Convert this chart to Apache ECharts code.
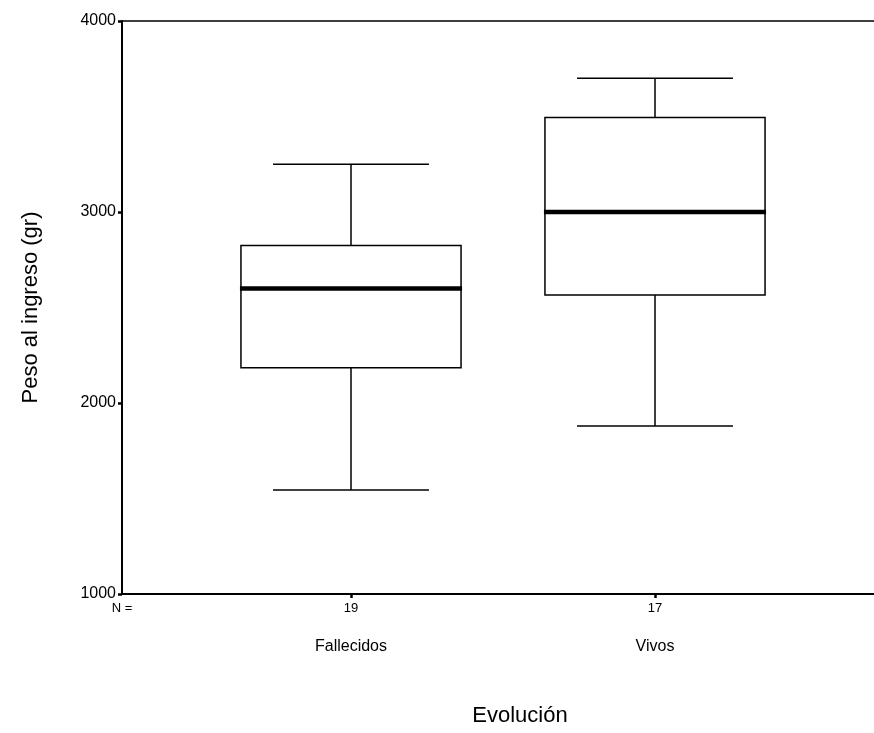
<!DOCTYPE html>
<html><head><meta charset="utf-8">
<script src="https://cdn.jsdelivr.net/npm/echarts@6/dist/echarts.min.js"></script>
<style>html,body{margin:0;padding:0;background:#fff}#c{width:874px;height:733px}</style>
</head><body><div id="c"></div>
<script>
const categories = ['Fallecidos', 'Vivos'];
const nCounts = [19, 17];
const lowWhisker = [1545, 1880];
const q1 = [2185, 2565];
const median = [2600, 3000];
const q3 = [2825, 3495];
const highWhisker = [3250, 3700];
const yTicks = [1000, 2000, 3000, 4000];

const FONT = '"Liberation Sans", Arial, sans-serif';
const chart = echarts.init(document.getElementById('c'), null, {renderer: 'canvas'});

function renderItem(params, api) {
  const x = api.value(0);
  const lo = api.coord([x, api.value(1)]);
  const b1 = api.coord([x, api.value(2)]);
  const md = api.coord([x, api.value(3)]);
  const b3 = api.coord([x, api.value(4)]);
  const hi = api.coord([x, api.value(5)]);
  const band = api.size([1, 0])[0];
  const bw = band * 0.724, cw = band * 0.513;
  const cx = lo[0];
  const ln = (x1, y1, x2, y2, w) => ({type: 'line', shape: {x1, y1, x2, y2}, style: {stroke: '#000', lineWidth: w}});
  return {type: 'group', children: [
    ln(cx, hi[1], cx, b3[1], 1.5),
    ln(cx, b1[1], cx, lo[1], 1.5),
    ln(cx - cw / 2, hi[1], cx + cw / 2, hi[1], 1.5),
    ln(cx - cw / 2, lo[1], cx + cw / 2, lo[1], 1.5),
    {type: 'rect', shape: {x: cx - bw / 2, y: b3[1], width: bw, height: b1[1] - b3[1]}, style: {fill: '#fff', stroke: '#000', lineWidth: 1.5}},
    ln(cx - bw / 2 - 1, md[1], cx + bw / 2 + 1, md[1], 4.5)
  ]};
}

chart.setOption({
  animation: false,
  backgroundColor: '#fff',
  textStyle: {fontFamily: FONT, color: '#000'},
  grid: [
    {left: 122, right: -44, top: 21, bottom: 139, outerBoundsMode: 'none', containLabel: false, show: true, borderColor: '#000', borderWidth: 1.5, backgroundColor: 'transparent'},
    {left: 199, width: 608, top: 21, bottom: 139, outerBoundsMode: 'none', containLabel: false}
  ],
  xAxis: [
    {gridIndex: 0, type: 'value', min: 0, max: 1, interval: 1, position: 'bottom',
     axisLine: {show: true, lineStyle: {color: '#000', width: 2}}, axisTick: {show: false}, splitLine: {show: false},
     axisLabel: {formatter: v => v === 0 ? 'N =' : '', fontSize: 13, color: '#000', fontFamily: FONT, margin: 8},
     name: 'Evolución', nameLocation: 'middle', nameGap: 111, nameTextStyle: {fontSize: 22, color: '#000', fontFamily: FONT}},
    {gridIndex: 1, type: 'category', data: categories, position: 'bottom',
     axisLine: {show: false}, axisTick: {show: true, alignWithLabel: true, length: 4, lineStyle: {color: '#000', width: 2.5}},
     axisLabel: {formatter: (v, i) => String(nCounts[i]), fontSize: 13, color: '#000', fontFamily: FONT, margin: 8}},
    {gridIndex: 1, type: 'category', data: categories, position: 'bottom',
     axisLine: {show: false}, axisTick: {show: false},
     axisLabel: {fontSize: 16, color: '#000', fontFamily: FONT, margin: 45}}
  ],
  yAxis: [
    {gridIndex: 0, type: 'value', min: yTicks[0], max: yTicks[yTicks.length - 1], interval: 1000,
     axisLine: {show: true, lineStyle: {color: '#000', width: 2}},
     axisTick: {show: true, length: 4, lineStyle: {color: '#000', width: 2.5}},
     splitLine: {show: false},
     axisLabel: {formatter: v => String(v), fontSize: 16, color: '#000', fontFamily: FONT, margin: 6},
     name: 'Peso al ingreso (gr)', nameLocation: 'middle', nameGap: 80, nameTextStyle: {fontSize: 22, color: '#000', fontFamily: FONT}},
    {gridIndex: 1, type: 'value', min: yTicks[0], max: yTicks[yTicks.length - 1], interval: 1000, show: false}
  ],
  series: [{
    type: 'custom', xAxisIndex: 1, yAxisIndex: 1, renderItem,
    encode: {x: 0, y: [1, 2, 3, 4, 5]},
    data: categories.map((c, i) => [i, lowWhisker[i], q1[i], median[i], q3[i], highWhisker[i]])
  }]
});
</script></body></html>
